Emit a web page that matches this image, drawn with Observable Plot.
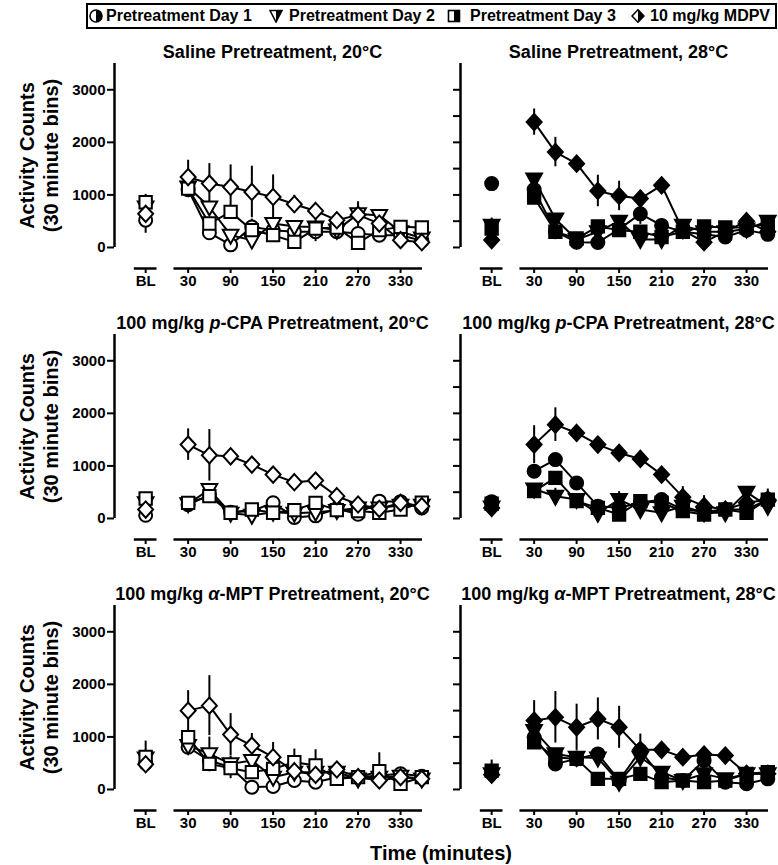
<!DOCTYPE html>
<html>
<head>
<meta charset="utf-8">
<script src="https://cdn.jsdelivr.net/npm/d3@7"></script>
<script src="https://cdn.jsdelivr.net/npm/@observablehq/plot@0.6"></script>
<style>
  body { margin: 0; background: #fff; font-family: "Liberation Sans", Arial, sans-serif; }
  #wrap { position: relative; width: 778px; height: 865px; overflow: hidden; }
  #legend { position: absolute; left: 86px; top: 3px; width: 687px; height: 22px; border: 2px solid #000; font-weight: bold; font-size: 16px; }
  #legend .sym { position: absolute; top: 4px; width: 14px; height: 14px; }
  #legend .lab { position: absolute; top: 2px; line-height: 18px; white-space: nowrap; }
  #chart { position: absolute; left: 0; top: 34px; }
  #xtitle { position: absolute; left: 241px; width: 400px; top: 841px; line-height: 24px; text-align: center; font-weight: bold; font-size: 20px; }
</style>
</head>
<body>
<div id="wrap">
  <div id="legend">
    <svg class="sym" style="left:1px" viewBox="0 0 14 14"><circle cx="7" cy="7" r="6" fill="#fff" stroke="#000" stroke-width="1.6"/><path d="M7,1 A6,6 0 0 1 7,13 Z" fill="#000"/></svg>
    <span class="lab" style="left:18px">Pretreatment Day 1</span>
    <svg class="sym" style="left:181px" viewBox="0 0 14 14"><path d="M1,1.5 L13,1.5 L7,13 Z" fill="#fff" stroke="#000" stroke-width="1.6"/><path d="M7,1.5 L13,1.5 L7,13 Z" fill="#000"/></svg>
    <span class="lab" style="left:201px">Pretreatment Day 2</span>
    <svg class="sym" style="left:359px" viewBox="0 0 14 14"><rect x="1.5" y="1.5" width="11" height="11" fill="#fff" stroke="#000" stroke-width="1.6"/><rect x="7" y="1.5" width="5.5" height="11" fill="#000"/></svg>
    <span class="lab" style="left:382px">Pretreatment Day 3</span>
    <svg class="sym" style="left:543px" viewBox="0 0 14 14"><path d="M7,0.8 L13,7 L7,13.2 L1,7 Z" fill="#fff" stroke="#000" stroke-width="1.6"/><path d="M7,0.8 L13,7 L7,13.2 Z" fill="#000"/></svg>
    <span class="lab" style="left:562px">10 mg/kg MDPV</span>
  </div>
  <div id="chart"></div>
  <div id="xtitle">Time (minutes)</div>
</div>
<script>
// ---------- categories / ticks ----------
const temps = ["20°C", "28°C"];
const pretreatments = ["Saline", "p-CPA", "α-MPT"];
const panelTitles = [
  "Saline Pretreatment, 20°C", "Saline Pretreatment, 28°C",
  "100 mg/kg p-CPA Pretreatment, 20°C", "100 mg/kg p-CPA Pretreatment, 28°C",
  "100 mg/kg α-MPT Pretreatment, 20°C", "100 mg/kg α-MPT Pretreatment, 28°C"
];
const seriesNames = ["Pretreatment Day 1", "Pretreatment Day 2", "Pretreatment Day 3", "10 mg/kg MDPV"];
const blPosition = -30;                 // where "BL" sits on the time scale
const timeBins = [30, 60, 90, 120, 150, 180, 210, 240, 270, 300, 330, 360];
const xTicks = [-30, 30, 90, 150, 210, 270, 330];
const xTickLabels = ["BL", "30", "90", "150", "210", "270", "330"];
const yTicksLabeled = [0, 1000, 2000, 3000];
const yTicksAll = [0, 500, 1000, 1500, 2000, 2500, 3000];
const xDomain = [-74, 361];
const yDomain = [-400, 3500];
const yAxisTop = 3500;
const xAxisSegments = [{x1: -46, x2: -14}, {x1: 10, x2: 361}];
const yTitle = "Activity Counts\n(30 minute bins)";

// ---------- values: [BL, 30, 60, ..., 360] ----------
// Saline, 20°C
const sal20_day1 = [520, 1100, 280, 50, 390, 330, 300, 300, 300, 266, 234, 234, 130];
const sal20_day2 = [770, 1150, 770, 234, 140, 456, 400, 390, 330, 640, 610, 300, 180];
const sal20_day3 = [860, 1120, 456, 676, 330, 234, 107, 360, 380, 88, 330, 392, 380];
const sal20_mdpv = [640, 1340, 1215, 1151, 1056, 961, 822, 695, 518, 620, 455, 139, 100];
const sal20_day1_sem = [250, 80, 80, 60, 150, 60, 60, 80, 150, 60, 60, 60, 60];
const sal20_day2_sem = [150, 80, 100, 80, 100, 60, 60, 60, 60, 100, 80, 60, 60];
const sal20_day3_sem = [150, 80, 80, 80, 60, 60, 60, 250, 60, 60, 60, 60, 60];
const sal20_mdpv_sem = [150, 320, 380, 420, 490, 420, 170, 130, 150, 250, 150, 100, 80];
// Saline, 28°C
const sal28_day1 = [1215, 1100, 300, 100, 95, 350, 640, 420, 300, 250, 200, 330, 250];
const sal28_day2 = [420, 1300, 540, 150, 300, 500, 150, 150, 420, 300, 300, 350, 500];
const sal28_day3 = [360, 950, 300, 170, 400, 330, 300, 200, 300, 400, 380, 380, 450];
const sal28_mdpv = [140, 2385, 1815, 1595, 1075, 980, 930, 1183, 330, 100, 300, 500, 300];
const sal28_day1_sem = [60, 100, 60, 60, 60, 80, 200, 60, 60, 60, 60, 60, 60];
const sal28_day2_sem = [60, 100, 80, 60, 60, 100, 60, 60, 60, 60, 60, 60, 80];
const sal28_day3_sem = [200, 100, 60, 60, 60, 60, 60, 60, 60, 60, 60, 60, 60];
const sal28_mdpv_sem = [80, 250, 280, 120, 300, 280, 150, 60, 100, 150, 100, 150, 100];
// p-CPA, 20°C
const pcpa20_day1 = [60, 260, 450, 120, 140, 300, 20, 50, 190, 80, 330, 320, 200];
const pcpa20_day2 = [300, 280, 550, 100, 60, 120, 100, 120, 150, 200, 200, 250, 250];
const pcpa20_day3 = [380, 297, 424, 108, 171, 108, 158, 297, 158, 140, 108, 170, 300];
const pcpa20_mdpv = [170, 1405, 1202, 1183, 1025, 835, 690, 721, 424, 266, 184, 297, 234];
const pcpa20_day1_sem = [60, 50, 80, 50, 50, 60, 50, 50, 50, 50, 50, 50, 50];
const pcpa20_day2_sem = [60, 50, 80, 50, 80, 50, 50, 50, 80, 50, 50, 50, 50];
const pcpa20_day3_sem = [60, 50, 60, 50, 50, 50, 50, 60, 50, 50, 50, 50, 50];
const pcpa20_mdpv_sem = [60, 300, 490, 150, 60, 50, 50, 60, 80, 60, 60, 60, 60];
// p-CPA, 28°C
const pcpa28_day1 = [320, 900, 1120, 677, 234, 205, 300, 360, 171, 130, 171, 171, 360];
const pcpa28_day2 = [220, 560, 424, 360, 100, 360, 171, 108, 234, 108, 108, 500, 234];
const pcpa28_day3 = [280, 519, 773, 329, 202, 76, 330, 300, 139, 76, 171, 108, 360];
const pcpa28_mdpv = [200, 1405, 1785, 1627, 1405, 1247, 1133, 835, 405, 234, 171, 297, 360];
const pcpa28_day1_sem = [60, 80, 100, 80, 60, 50, 60, 60, 50, 50, 50, 50, 80];
const pcpa28_day2_sem = [60, 80, 150, 60, 50, 150, 50, 50, 50, 50, 50, 80, 50];
const pcpa28_day3_sem = [60, 60, 80, 60, 60, 50, 60, 60, 50, 50, 50, 50, 80];
const pcpa28_mdpv_sem = [60, 360, 320, 80, 150, 80, 150, 150, 200, 200, 80, 100, 200];
// α-MPT, 20°C
const ampt20_day1 = [500, 803, 550, 424, 44, 57, 171, 139, 234, 234, 266, 300, 250];
const ampt20_day2 = [600, 835, 677, 487, 550, 234, 329, 329, 329, 200, 234, 250, 200];
const ampt20_day3 = [620, 993, 487, 405, 329, 392, 519, 456, 202, 234, 348, 108, 234];
const ampt20_mdpv = [480, 1500, 1595, 1044, 835, 614, 348, 279, 380, 234, 171, 234, 202];
const ampt20_day1_sem = [150, 80, 100, 80, 60, 80, 150, 60, 60, 60, 60, 60, 60];
const ampt20_day2_sem = [150, 100, 320, 150, 150, 80, 80, 60, 60, 60, 60, 60, 60];
const ampt20_day3_sem = [300, 80, 150, 200, 120, 80, 250, 300, 60, 60, 350, 60, 60];
const ampt20_mdpv_sem = [100, 380, 570, 400, 230, 280, 120, 100, 80, 80, 80, 80, 60];
// α-MPT, 28°C
const ampt28_day1 = [330, 993, 487, 582, 677, 171, 740, 234, 171, 550, 139, 108, 202];
const ampt28_day2 = [300, 1120, 677, 614, 600, 139, 614, 329, 171, 297, 202, 297, 297];
const ampt28_day3 = [360, 899, 614, 582, 202, 202, 297, 139, 171, 139, 171, 297, 329];
const ampt28_mdpv = [280, 1310, 1373, 1183, 1342, 1183, 754, 754, 614, 665, 645, 297, 297];
const ampt28_day1_sem = [150, 100, 80, 80, 120, 60, 150, 60, 60, 120, 60, 60, 60];
const ampt28_day2_sem = [150, 150, 100, 80, 80, 60, 100, 60, 60, 60, 60, 60, 60];
const ampt28_day3_sem = [200, 100, 80, 150, 60, 60, 60, 60, 60, 60, 60, 60, 60];
const ampt28_mdpv_sem = [80, 380, 490, 440, 400, 400, 300, 100, 80, 80, 60, 80, 60];

// ---------- assemble long table ----------
const panelMeans = [
  [sal20_day1, sal20_day2, sal20_day3, sal20_mdpv], [sal28_day1, sal28_day2, sal28_day3, sal28_mdpv],
  [pcpa20_day1, pcpa20_day2, pcpa20_day3, pcpa20_mdpv], [pcpa28_day1, pcpa28_day2, pcpa28_day3, pcpa28_mdpv],
  [ampt20_day1, ampt20_day2, ampt20_day3, ampt20_mdpv], [ampt28_day1, ampt28_day2, ampt28_day3, ampt28_mdpv]
];
const panelSems = [
  [sal20_day1_sem, sal20_day2_sem, sal20_day3_sem, sal20_mdpv_sem], [sal28_day1_sem, sal28_day2_sem, sal28_day3_sem, sal28_mdpv_sem],
  [pcpa20_day1_sem, pcpa20_day2_sem, pcpa20_day3_sem, pcpa20_mdpv_sem], [pcpa28_day1_sem, pcpa28_day2_sem, pcpa28_day3_sem, pcpa28_mdpv_sem],
  [ampt20_day1_sem, ampt20_day2_sem, ampt20_day3_sem, ampt20_mdpv_sem], [ampt28_day1_sem, ampt28_day2_sem, ampt28_day3_sem, ampt28_mdpv_sem]
];
const xPositions = [blPosition, ...timeBins];
const rows = [];
const titleRows = [];
panelMeans.forEach((seriesArr, p) => {
  const pre = pretreatments[Math.floor(p / 2)];
  const temp = temps[p % 2];
  titleRows.push({pre, temp, title: panelTitles[p]});
  seriesArr.forEach((vals, s) => {
    vals.forEach((v, i) => {
      const sem = panelSems[p][s][i];
      rows.push({pre, temp, series: seriesNames[s], x: xPositions[i], bl: i === 0,
                 mean: v, lo: Math.max(0, v - sem), hi: v + sem});
    });
  });
});
const yTitleRows = pretreatments.map(pre => ({pre, temp: temps[0], text: yTitle}));

// ---------- symbols ----------
const circleSym = { draw(c, size) { const r = Math.sqrt(size / Math.PI); c.moveTo(r, 0); c.arc(0, 0, r, 0, 2 * Math.PI); } };
const triDownSym = { draw(c, size) { const r = Math.sqrt(size / Math.PI); const w = r * 1.2, t = r * 0.85, b = r * 1.3;
  c.moveTo(-w, -t); c.lineTo(w, -t); c.lineTo(0, b); c.closePath(); } };
const squareSym = { draw(c, size) { const r = Math.sqrt(size / Math.PI) * 0.95; c.rect(-r, -r, 2 * r, 2 * r); } };
const diamondSym = { draw(c, size) { const r = Math.sqrt(size / Math.PI); const w = r * 1.15, h = r * 1.25;
  c.moveTo(0, -h); c.lineTo(w, 0); c.lineTo(0, h); c.lineTo(-w, 0); c.closePath(); } };
const seriesSymbols = [circleSym, triDownSym, squareSym, diamondSym];

const fillOf = d => d.temp === temps[1] ? "black" : "white";
const facetCh = {fx: "temp", fy: "pre"};

const plot = Plot.plot({
  width: 778,
  height: 806,
  marginLeft: 113,
  marginRight: 9,
  marginTop: 29,
  marginBottom: 29,
  style: {fontFamily: "'Liberation Sans', Arial, sans-serif", fontSize: "15px", fontWeight: "bold", color: "black", background: "white"},
  fx: {domain: temps, paddingInner: 0.1095, paddingOuter: 0, axis: null},
  fy: {domain: pretreatments, paddingInner: 0.2432, paddingOuter: 0, axis: null},
  x: {domain: xDomain},
  y: {domain: yDomain},
  color: {type: "identity"},
  marks: [
    // axis lines
    Plot.ruleX([{x: xDomain[0], y1: 0, y2: yAxisTop}], {x: "x", y1: "y1", y2: "y2", strokeWidth: 2.5}),
    Plot.ruleY(xAxisSegments, {y: yDomain[0], x1: "x1", x2: "x2", strokeWidth: 2.5}),
    Plot.axisX({ticks: xTicks, tickFormat: d => xTickLabels[xTicks.indexOf(d)], tickSize: 5, tickPadding: 2,
                strokeWidth: 2, fontSize: 15, fontWeight: "bold", label: null, anchor: "bottom", facetAnchor: null}),
    Plot.axisY({ticks: yTicksLabeled, tickFormat: d => String(d), tickSize: 7, tickPadding: 2, strokeWidth: 2,
                fontSize: 15, fontWeight: "bold", label: null, anchor: "left", facetAnchor: "left"}),
    Plot.axisY({ticks: yTicksAll, tickFormat: () => "", tickSize: 7, strokeWidth: 2, label: null,
                anchor: "left", facetAnchor: "right"}),
    // error bars, lines, markers
    Plot.ruleX(rows, {...facetCh, x: "x", y1: "lo", y2: "hi", strokeWidth: 2}),
    Plot.line(rows.filter(d => !d.bl), {...facetCh, x: "x", y: "mean", z: "series", stroke: "black", strokeWidth: 2}),
    ...seriesNames.map((name, s) => Plot.dot(rows.filter(d => d.series === name),
      {...facetCh, x: "x", y: "mean", symbol: seriesSymbols[s], r: 6.5, fill: fillOf, stroke: "black", strokeWidth: 2})),
    // panel titles & y titles
    Plot.text(titleRows, {...facetCh, text: "title", frameAnchor: "top", dy: -11, dx: 4, fontSize: 18,
                          fontWeight: "bold", lineAnchor: "middle"}),
    Plot.text(yTitleRows, {...facetCh, text: "text", frameAnchor: "left", y: d3.mean([0, yAxisTop]), rotate: -90, dx: -76,
                           fontSize: 20, fontWeight: "bold", lineHeight: 1.2, textAnchor: "middle", lineAnchor: "middle"})
  ]
});
document.getElementById("chart").appendChild(plot);

// italicise the drug prefix letters (p, α) in panel titles
const ns = "http://www.w3.org/2000/svg";
plot.querySelectorAll("text").forEach(t => {
  const m = t.textContent.match(/^(100 mg\/kg )(p|α)(-.+)$/);
  if (!m) return;
  t.textContent = "";
  [[m[1], false], [m[2], true], [m[3], false]].forEach(([part, it]) => {
    const ts = document.createElementNS(ns, "tspan");
    ts.textContent = part;
    if (it) ts.setAttribute("font-style", "italic");
    t.appendChild(ts);
  });
});
</script>
</body>
</html>
